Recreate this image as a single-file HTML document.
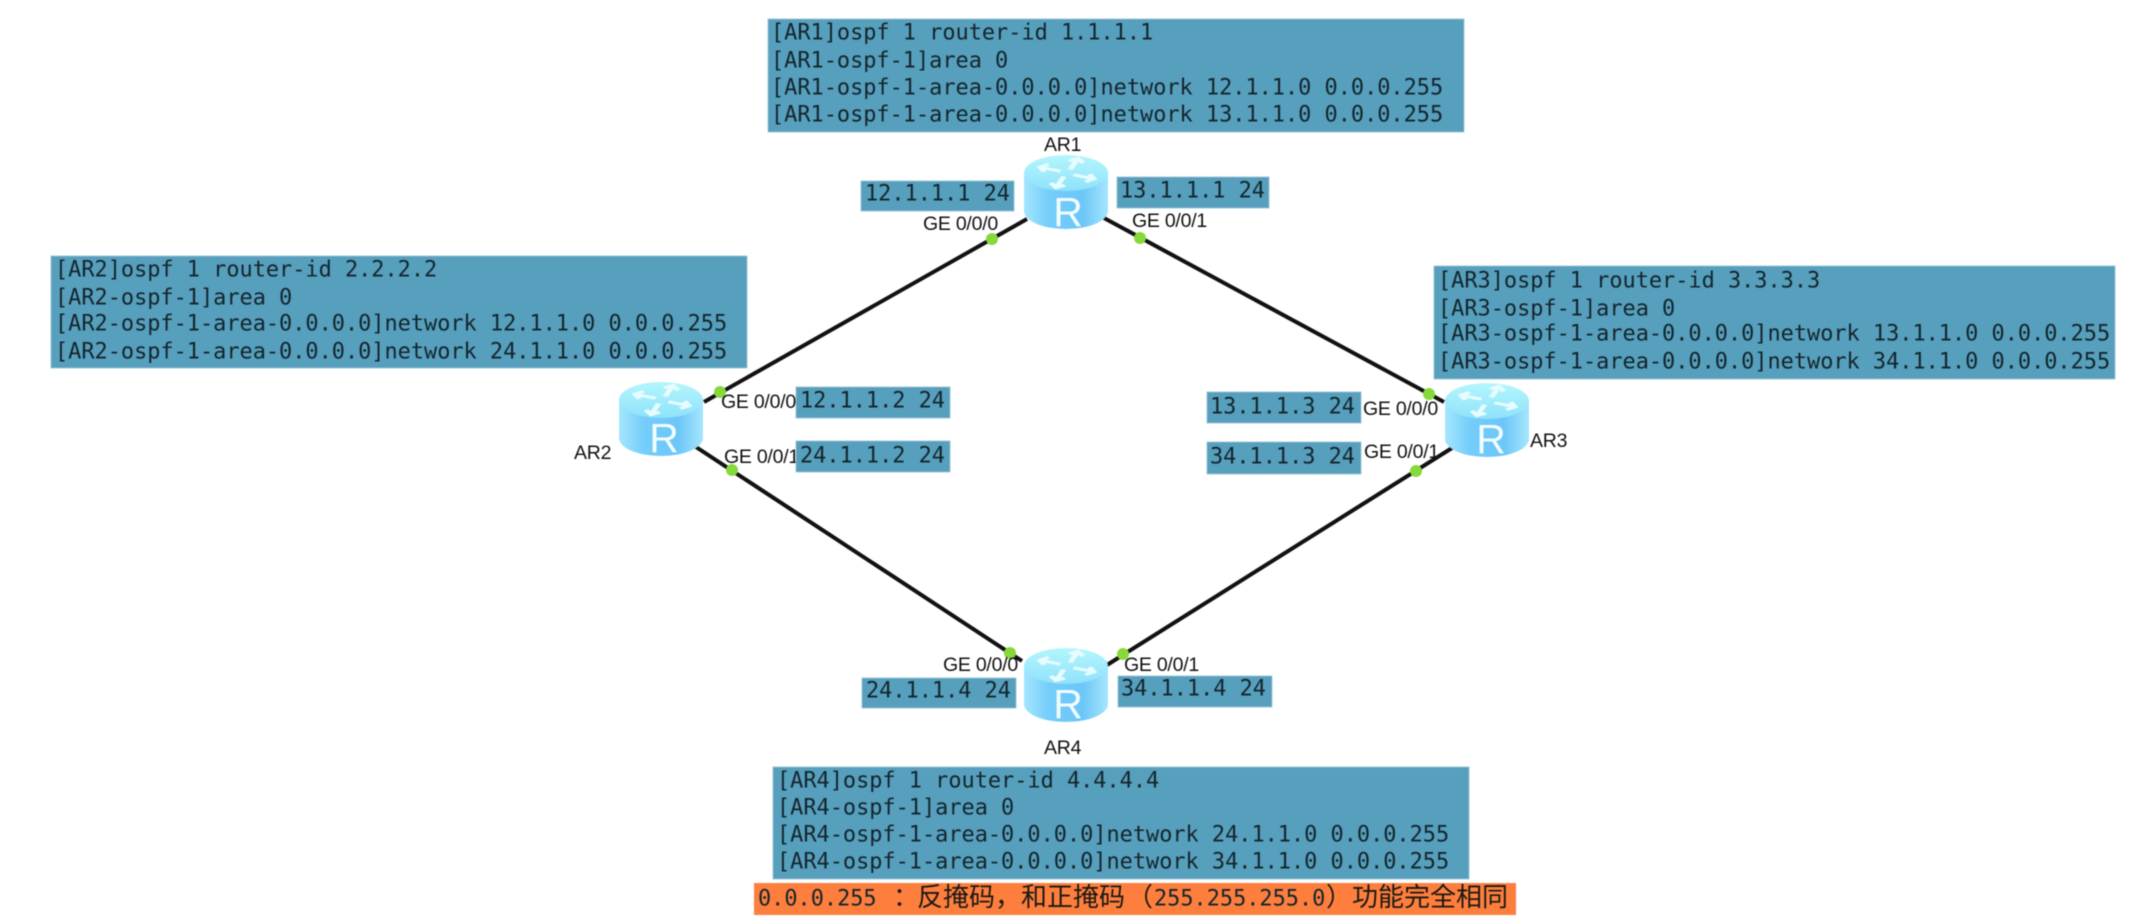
<!DOCTYPE html>
<html><head><meta charset="utf-8"><style>
html,body{margin:0;padding:0;background:#fff}
svg{display:block}
.m{font-family:"DejaVu Sans Mono","Noto Sans CJK SC",monospace;font-size:21.9px;fill:#14252c;dominant-baseline:central}
.c{font-family:"Liberation Sans","Noto Sans CJK SC",sans-serif;font-size:26px;fill:#1a1a12;dominant-baseline:central}
.g{font-family:"Liberation Sans",sans-serif;font-size:19.5px;letter-spacing:-.25px;fill:#111;dominant-baseline:central}
.r{font-family:"Liberation Sans",sans-serif;font-size:41px;fill:#f2fdff;text-anchor:middle}
.b{fill:#569fbd;stroke:#9cc6d8;stroke-width:1}
.l{stroke:#111;stroke-width:4;fill:none}
.d{fill:#86d93a}
</style></head><body>
<svg xmlns="http://www.w3.org/2000/svg" width="2133" height="922" viewBox="0 0 2133 922">
<defs>
<linearGradient id="bd" x1="0" x2="1" y1="0" y2="0"><stop offset="0" stop-color="#a4e6fd"/><stop offset=".3" stop-color="#74cdfa"/><stop offset=".7" stop-color="#6cc6f8"/><stop offset="1" stop-color="#a6e6fd"/></linearGradient>
<linearGradient id="tp" x1="0" x2="0" y1="0" y2="1"><stop offset="0" stop-color="#b4f6fd"/><stop offset="1" stop-color="#8fe2fb"/></linearGradient>
<path id="ar" d="M3,-6L10,-25M2,-21L10,-25L15,-17" fill="none" stroke="#e6fcff" stroke-width="5"/>
<g id="rt">
<path d="M0,18V56A42,18 0 0 0 84,56V18Z" fill="url(#bd)"/>
<ellipse cx="42" cy="18" rx="42" ry="18" fill="url(#tp)"/>
<g transform="translate(43,18) scale(1.08,.58)">
<use href="#ar"/>
<use href="#ar" transform="rotate(90)"/>
<use href="#ar" transform="rotate(180)"/>
<use href="#ar" transform="rotate(270)"/>
</g>
</g>
</defs>
<g style="filter:blur(.4px)">
<path class="l" d="M1027,219L704,402"/>
<path class="l" d="M1104,218L1444,402"/>
<path class="l" d="M696,447L1022,661"/>
<path class="l" d="M1452,448L1107,665"/>

<ellipse class="d" cx="992" cy="239" rx="6" ry="6"/>
<ellipse class="d" cx="1140" cy="238" rx="6" ry="6"/>
<ellipse class="d" cx="720" cy="392" rx="6" ry="6"/>
<ellipse class="d" cx="732" cy="470" rx="6" ry="6"/>
<ellipse class="d" cx="1429" cy="394" rx="6" ry="6"/>
<ellipse class="d" cx="1416" cy="471" rx="6" ry="6"/>
<ellipse class="d" cx="1010" cy="653" rx="6" ry="6"/>
<ellipse class="d" cx="1123" cy="654" rx="6" ry="6"/>

<use href="#rt" x="1024" y="155"/><text class="r" x="1068" y="226">R</text>
<use href="#rt" x="619" y="382"/><text class="r" x="664" y="452">R</text>
<use href="#rt" x="1445" y="383"/><text class="r" x="1491" y="453">R</text>
<use href="#rt" x="1024" y="648"/><text class="r" x="1068" y="718">R</text>

<text class="g" x="1044" y="145">AR1</text>
<text class="g" x="574" y="453">AR2</text>
<text class="g" x="1530" y="441">AR3</text>
<text class="g" x="1044" y="748">AR4</text>
<text class="g" x="923" y="224">GE 0/0/0</text>
<text class="g" x="1132" y="221">GE 0/0/1</text>
<text class="g" x="721" y="402">GE 0/0/0</text>
<text class="g" x="724" y="457">GE 0/0/1</text>
<text class="g" x="1363" y="409">GE 0/0/0</text>
<text class="g" x="1364" y="452">GE 0/0/1</text>
<text class="g" x="943" y="665">GE 0/0/0</text>
<text class="g" x="1124" y="665">GE 0/0/1</text>

<rect class="b" x="768" y="19" width="696" height="113"/>
<text class="m" x="771" y="33">[AR1]ospf 1 router-id 1.1.1.1</text>
<text class="m" x="771" y="61">[AR1-ospf-1]area 0</text>
<text class="m" x="771" y="88">[AR1-ospf-1-area-0.0.0.0]network 12.1.1.0 0.0.0.255</text>
<text class="m" x="771" y="115">[AR1-ospf-1-area-0.0.0.0]network 13.1.1.0 0.0.0.255</text>

<rect class="b" x="51" y="256" width="696" height="112"/>
<text class="m" x="55" y="270">[AR2]ospf 1 router-id 2.2.2.2</text>
<text class="m" x="55" y="298">[AR2-ospf-1]area 0</text>
<text class="m" x="55" y="324">[AR2-ospf-1-area-0.0.0.0]network 12.1.1.0 0.0.0.255</text>
<text class="m" x="55" y="352">[AR2-ospf-1-area-0.0.0.0]network 24.1.1.0 0.0.0.255</text>

<rect class="b" x="1434" y="266" width="681" height="113"/>
<text class="m" x="1438" y="281">[AR3]ospf 1 router-id 3.3.3.3</text>
<text class="m" x="1438" y="309">[AR3-ospf-1]area 0</text>
<text class="m" x="1438" y="334">[AR3-ospf-1-area-0.0.0.0]network 13.1.1.0 0.0.0.255</text>
<text class="m" x="1438" y="362">[AR3-ospf-1-area-0.0.0.0]network 34.1.1.0 0.0.0.255</text>

<rect class="b" x="773" y="767" width="696" height="112"/>
<text class="m" x="777" y="781">[AR4]ospf 1 router-id 4.4.4.4</text>
<text class="m" x="777" y="808">[AR4-ospf-1]area 0</text>
<text class="m" x="777" y="835">[AR4-ospf-1-area-0.0.0.0]network 24.1.1.0 0.0.0.255</text>
<text class="m" x="777" y="862">[AR4-ospf-1-area-0.0.0.0]network 34.1.1.0 0.0.0.255</text>

<rect class="b" x="861" y="181" width="153" height="30"/>
<text class="m" x="865" y="194">12.1.1.1 24</text>
<rect class="b" x="1117" y="177" width="152" height="31"/>
<text class="m" x="1120" y="191">13.1.1.1 24</text>
<rect class="b" x="796" y="387" width="154" height="31"/>
<text class="m" x="800" y="401">12.1.1.2 24</text>
<rect class="b" x="796" y="441" width="154" height="31"/>
<text class="m" x="800" y="456">24.1.1.2 24</text>
<rect class="b" x="1207" y="392" width="154" height="31"/>
<text class="m" x="1210" y="407">13.1.1.3 24</text>
<rect class="b" x="1207" y="442" width="154" height="32"/>
<text class="m" x="1210" y="457">34.1.1.3 24</text>
<rect class="b" x="862" y="678" width="154" height="30"/>
<text class="m" x="866" y="691">24.1.1.4 24</text>
<rect class="b" x="1118" y="676" width="154" height="31"/>
<text class="m" x="1121" y="689">34.1.1.4 24</text>

<rect x="754" y="883" width="762" height="32" fill="#fe7e3e"/>
<text class="m" x="758" y="899">0.0.0.255</text>
<text class="c" x="893" y="897">：</text>
<text class="c" x="917" y="897">反掩码，和正掩码</text>
<text class="c" x="1127" y="897">（</text>
<text class="m" x="1154" y="899">255.255.255.0</text>
<text class="c" x="1326" y="897">）</text>
<text class="c" x="1352" y="897">功能完全相同</text>
</g>
</svg>
</body></html>
